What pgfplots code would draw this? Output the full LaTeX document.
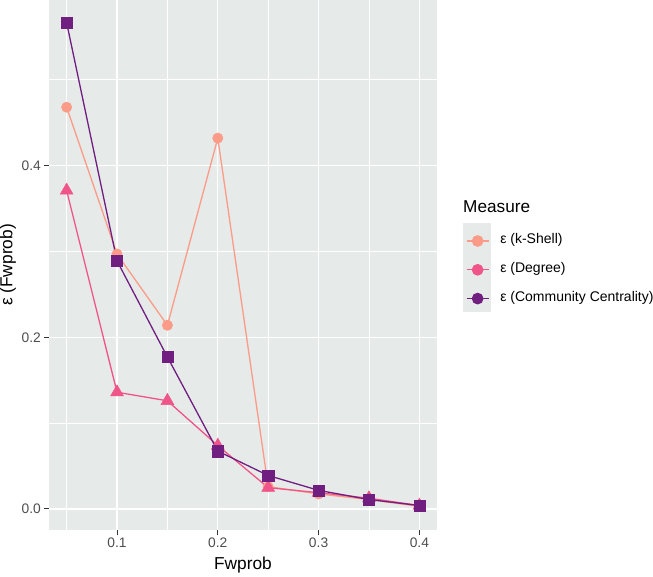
\documentclass[border=0pt]{standalone}
\usepackage{fontspec}
\setmainfont{Liberation Sans}
\usepackage{pgfplots}
\pgfplotsset{compat=1.18}
\definecolor{kshell}{HTML}{FB9B88}
\definecolor{degree}{HTML}{F0558A}
\definecolor{comm}{HTML}{701F81}
\definecolor{panelbg}{HTML}{E6EAE8}
\definecolor{ticklab}{HTML}{4D4D4D}
\definecolor{tickcol}{HTML}{333333}
\begin{document}
\begin{tikzpicture}
\useasboundingbox (-49pt,-46pt) rectangle (604pt,530pt);
\fill[panelbg] (414pt,218pt) rectangle (442pt,307pt);
\node[anchor=west, font=\fontsize{17.2}{20}\selectfont, inner sep=0pt] at (414pt,323pt) {Measure};
\begin{axis}[
  at={(0pt,0pt)}, anchor=south west,
  width=388pt, height=530pt, scale only axis,
  xmin=0.0325, xmax=0.4175, ymin=-0.0245, ymax=0.5929,
  axis x line*=bottom, axis y line*=left,
  axis line style={draw=none},
  axis background/.style={fill=panelbg},
  xtick={0.1,0.2,0.3,0.4}, xticklabels={0.1,0.2,0.3,0.4},
  ytick={0,0.2,0.4}, yticklabels={0.0,0.2,0.4},
  minor xtick={0.05,0.15,0.25,0.35}, minor ytick={0.1,0.3,0.5},
  grid=both,
  major grid style={white, line width=1.2pt},
  minor grid style={white, line width=0.6pt},
  tick align=outside, major tick length=5pt, minor tick length=0pt,
  tick style={draw=tickcol, line width=1pt},
  ticklabel style={font=\fontsize{13.8}{16}\selectfont, text=ticklab},
  xticklabel style={inner sep=2.5pt},
  yticklabel style={inner sep=3pt},
  xlabel={Fwprob}, ylabel={ε (Fwprob)},
  every axis x label/.style={at={(axis description cs:0.5,-0.066)}, anchor=center, font=\fontsize{17.3}{20}\selectfont},
  every axis y label/.style={at={(axis description cs:-0.1057,0.5)}, rotate=90, anchor=center, font=\fontsize{17.3}{20}\selectfont},
  clip=false,
  legend style={at={(axis description cs:1.0747,0.5551)}, anchor=north west,
    draw=none, fill=none, inner sep=0pt, outer sep=0pt,
    row sep=18.4pt, column sep=11pt,
    font=\fontsize{14}{16}\selectfont,
    nodes={inner sep=0pt, text height=0.75em, text depth=0.25em}},
  legend cell align=left,
  legend image code/.code={
    \draw[#1, mark=none] (0pt,0pt) -- (22pt,0pt);
    \draw[#1, only marks] plot coordinates {(11pt,0pt)};
  },
]
% lines
\addplot[kshell, line width=1.3pt, forget plot] coordinates {
 (0.05,0.468) (0.10,0.297) (0.15,0.214) (0.20,0.432) (0.25,0.026) (0.30,0.0175) (0.35,0.011) (0.40,0.003)};
\addplot[degree, line width=1.3pt, forget plot] coordinates {
 (0.05,0.371) (0.10,0.136) (0.15,0.126) (0.20,0.0738) (0.25,0.0248) (0.30,0.019) (0.35,0.0125) (0.40,0.004)};
\addplot[comm, line width=1.3pt, forget plot] coordinates {
 (0.05,0.5665) (0.10,0.289) (0.15,0.177) (0.20,0.0674) (0.25,0.039) (0.30,0.0217) (0.35,0.011) (0.40,0.004)};
% points
\addplot[only marks, mark=*, mark size=5.2pt, kshell, forget plot] coordinates {
 (0.05,0.468) (0.10,0.297) (0.15,0.214) (0.20,0.432) (0.25,0.026) (0.30,0.0175) (0.35,0.011) (0.40,0.003)};
\addplot[only marks, mark=triangle*, mark size=7.5pt, degree, forget plot] coordinates {
 (0.05,0.371) (0.10,0.136) (0.15,0.126) (0.20,0.0738) (0.25,0.0248) (0.30,0.019) (0.35,0.0125) (0.40,0.004)};
\addplot[only marks, mark=square*, mark size=5.6pt, comm, forget plot] coordinates {
 (0.05,0.5665) (0.10,0.289) (0.15,0.177) (0.20,0.0674) (0.25,0.039) (0.30,0.0217) (0.35,0.011) (0.40,0.004)};
\addlegendimage{kshell, line width=1.3pt, mark=*, mark size=5.2pt}
\addlegendentry{ε (k-Shell)}
\addlegendimage{degree, line width=1.3pt, mark=*, mark size=5.2pt}
\addlegendentry{ε (Degree)}
\addlegendimage{comm, line width=1.3pt, mark=*, mark size=5.2pt}
\addlegendentry{ε (Community Centrality)}
\end{axis}
\end{tikzpicture}
\end{document}
